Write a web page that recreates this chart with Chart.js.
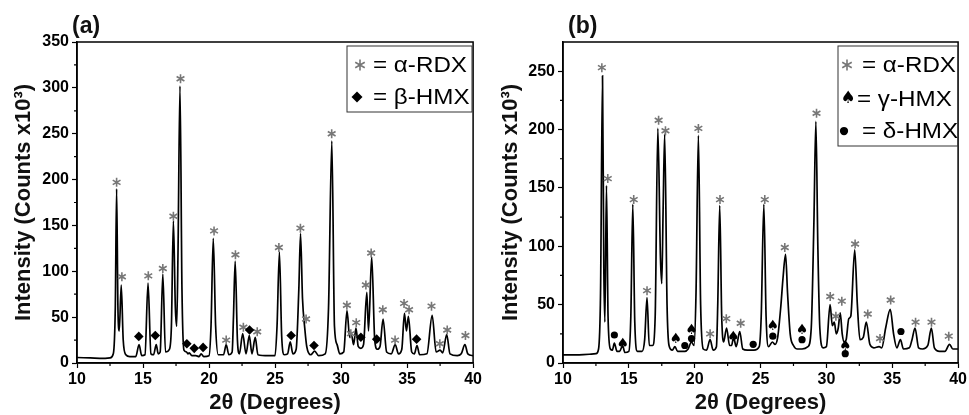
<!DOCTYPE html>
<html>
<head>
<meta charset="utf-8">
<script src="https://cdn.jsdelivr.net/npm/chart.js@4.4.0/dist/chart.umd.min.js"></script>
<style>
body{margin:0;background:#fff;}
canvas{position:absolute;top:0;}
#chartA{left:0;}
#chartB{left:484px;}
</style>
</head>
<body>
<canvas id="chartA" width="484" height="415"></canvas>
<canvas id="chartB" width="485" height="415"></canvas>
<script>
// panel (a) trace
var aTheta = [10.0,11.0,12.0,12.5,12.75,12.9,13.0,13.1,13.2,13.35,13.5,13.7,14.0,14.45,14.7,14.9,15.15,15.38,15.6,15.8,16.0,16.15,16.3,16.5,16.7,17.0,17.15,17.3,17.45,17.55,17.65,17.8,17.95,18.1,18.3,18.4,18.5,18.7,19.0,19.25,19.4,19.6,20.0,20.15,20.32,20.5,20.7,21.1,21.3,21.5,21.75,21.85,21.98,22.15,22.3,22.55,22.8,23.05,23.25,23.5,23.7,24.5,25.0,25.15,25.33,25.5,25.7,25.95,26.15,26.35,26.6,26.8,26.93,27.08,27.25,27.4,27.7,28.0,28.3,28.8,29.05,29.3,29.5,29.7,29.9,30.2,30.45,30.65,30.8,30.95,31.13,31.3,31.5,31.7,31.95,32.08,32.32,32.55,32.75,32.95,33.18,33.45,33.8,34.1,34.35,34.6,34.8,34.95,35.1,35.35,35.55,35.75,35.95,36.5,36.9,37.2,37.5,37.7,38.0,38.25,38.8,39.1,39.38,39.6,40.0];
var aCounts = [6,5.5,5,5.5,10,60,190,60,35,85,25,9,7,7,20,8,9,87,10,9,20,10,12,97,12,15,40,155,60,40,120,302,80,14,12,10,11,8,8,7,10,7,8,40,136,40,9,9,20,9,12,50,111,25,10,32,10,30,10,28,9,8,8,40,121,30,9,10,23,10,15,80,141,70,38,18,9,13,8,10,60,242,40,20,10,12,57,28,30,20,38,18,16,20,77,35,116,25,15,18,48,12,10,20,10,15,54,35,51,12,10,19,9,10,52,12,14,11,31,10,8,10,20,10,8];

// panel (b) trace
var bTheta = [10.0,11.0,12.0,12.5,12.7,12.85,13.0,13.1,13.18,13.3,13.42,13.6,13.75,13.9,14.1,14.3,14.52,14.7,15.0,15.15,15.3,15.45,15.65,16.0,16.2,16.38,16.55,16.8,17.0,17.2,17.4,17.5,17.6,17.72,17.9,18.05,18.3,18.5,18.7,19.0,19.25,19.5,19.75,19.95,20.1,20.28,20.45,20.65,20.9,21.17,21.4,21.65,21.75,21.9,22.05,22.2,22.42,22.65,22.8,22.95,23.15,23.42,23.65,24.0,24.5,24.9,25.05,25.25,25.42,25.6,25.9,26.1,26.3,26.55,26.7,26.9,27.05,27.25,27.5,27.8,28.15,28.6,28.85,29.05,29.2,29.35,29.5,29.75,30.0,30.28,30.45,30.6,30.75,30.9,31.05,31.2,31.35,31.5,31.7,31.85,32.15,32.35,32.55,32.8,33.03,33.3,33.6,34.0,34.2,34.5,34.85,35.1,35.35,35.62,35.85,36.3,36.5,36.73,37.0,37.3,37.7,37.97,38.2,38.6,39.0,39.35,39.6,40.0];
var bCounts = [7,7,7.5,8,12,60,246,80,35,152,40,12,11,17,10,10,15,9,10,40,136,35,10,10,20,56,15,15,40,201,90,68,130,196,50,15,11,14,10,10,10,12,18,15,60,195,50,12,11,20,11,14,50,135,40,18,30,15,15,22,14,27,12,11,11,14,40,136,40,14,18,16,22,50,72,93,60,25,15,12,12,14,30,120,207,100,30,13,14,50,32,35,25,30,43,25,18,20,38,40,97,50,20,22,35,16,13,14,13,30,46,25,13,20,12,13,20,30,13,12,15,30,13,10,10,16,12,12];

// peak markers
var aRdxX = [13.0,13.4,15.4,16.5,17.3,17.84,20.38,21.3,22.0,22.6,23.65,25.29,26.92,27.35,29.29,30.44,30.74,31.15,31.88,32.28,33.16,34.09,34.77,35.15,36.85,37.48,38.04,39.42];
var aRdxY = [197,94,95,103,160,310,144,25,118,39,34,126,147,48,250,63,32,44,85,120,58,25,65,58,62,21,36,30];
var aBetaX = [14.68,15.93,18.32,18.88,19.55,23.07,26.22,27.95,31.5,32.7,35.72];
var aBetaY = [29,30,21,16,17,36,30,19,28,26,26];

var bRdxX = [12.95,13.4,15.37,16.38,17.26,17.78,20.28,21.17,21.92,22.4,23.49,25.32,26.84,29.25,30.29,30.72,31.17,32.18,33.14,34.07,34.88,36.77,37.98,39.29];
var bRdxY = [253,158,140,62,208,199,201,25,140,38,34,140,99,214,57,40,53,102,42,21,54,35,35,23];
var bGammaX = [14.54,18.57,19.76,22.93,25.93,28.15,31.43];
var bGammaY = [16,20,28,22,31,28,14];
var bDeltaX = [13.9,19.25,19.76,24.44,25.93,28.15,31.43,35.66];
var bDeltaY = [24,15,21,16,23,20,8,27];

function pairs(xs, ys) {
  return xs.map(function(x, i) { return {x: x, y: ys[i]}; });
}

function drawSymbol(ctx, kind, x, y, s) {
  ctx.save();
  if (kind === 'star') {
    ctx.strokeStyle = '#777';
    ctx.lineWidth = 1.6;
    ctx.beginPath();
    for (var k = 0; k < 3; k++) {
      var a = Math.PI / 2 + k * Math.PI / 3;
      ctx.moveTo(x + s * Math.cos(a), y + s * Math.sin(a));
      ctx.lineTo(x - s * Math.cos(a), y - s * Math.sin(a));
    }
    ctx.stroke();
  } else if (kind === 'diamond') {
    ctx.fillStyle = '#000';
    ctx.beginPath();
    ctx.moveTo(x, y - s); ctx.lineTo(x + s, y); ctx.lineTo(x, y + s); ctx.lineTo(x - s, y);
    ctx.closePath();
    ctx.fill();
  } else if (kind === 'dot') {
    ctx.fillStyle = '#000';
    ctx.beginPath();
    ctx.arc(x, y, s * 0.75, 0, Math.PI * 2);
    ctx.fill();
  } else if (kind === 'spade') {
    ctx.fillStyle = '#000';
    ctx.font = Math.round(s * 3) + 'px "DejaVu Sans"';
    ctx.textAlign = 'center';
    ctx.textBaseline = 'middle';
    ctx.fillText('\u2660', x, y);
  }
  ctx.restore();
}

// frame, minor ticks, titles, peak marks, legend box
var decorPlugin = {
  id: 'decor',
  afterDraw: function(chart, args, o) {
    var ctx = chart.ctx, area = chart.chartArea;
    var xs = chart.scales.x, ys = chart.scales.y;
    ctx.save();
    ctx.strokeStyle = '#000';
    ctx.lineWidth = 1.5;
    ctx.strokeRect(area.left, area.top, area.right - area.left, area.bottom - area.top);

    ctx.lineWidth = 1.2;
    ctx.beginPath();
    for (var v = 12.5; v < 40; v += 5) {
      var px = xs.getPixelForValue(v);
      ctx.moveTo(px, area.bottom); ctx.lineTo(px, area.bottom + 3);
    }
    for (var w = 25; w < ys.max; w += 50) {
      var py = ys.getPixelForValue(w);
      ctx.moveTo(area.left, py); ctx.lineTo(area.left - 3, py);
    }
    ctx.stroke();

    o.marks.forEach(function(m) {
      m.x.forEach(function(x, i) {
        drawSymbol(ctx, m.kind, xs.getPixelForValue(x), ys.getPixelForValue(m.y[i]), m.kind === 'star' ? 4.5 : 4.8);
      });
    });

    ctx.fillStyle = '#111';
    ctx.font = 'bold 22px "Liberation Sans"';
    ctx.textAlign = 'center';
    ctx.textBaseline = 'middle';
    ctx.fillText('2\u03b8 (Degrees)', (area.left + area.right) / 2, 403);
    ctx.save();
    ctx.translate(o.yTitleX, (area.top + area.bottom) / 2);
    ctx.rotate(-Math.PI / 2);
    ctx.fillText('Intensity (Counts x10\u00b3)', 0, 0);
    ctx.restore();
    ctx.textAlign = 'left';
    ctx.font = 'bold 23px "Liberation Sans"';
    ctx.fillText(o.panel, o.panelX, 27);

    var lb = o.legend;
    ctx.lineWidth = 1;
    ctx.strokeStyle = '#333';
    ctx.strokeRect(lb.x, lb.y, lb.w, lb.h);
    ctx.font = '22px "Liberation Sans"';
    ctx.fillStyle = '#000';
    lb.items.forEach(function(it) {
      drawSymbol(ctx, it.kind, it.sx, it.y, 5.5);
      ctx.save();
      ctx.translate(it.tx, it.y);
      ctx.scale(1.1, 1);
      ctx.fillText(it.text, 0, 1);
      ctx.restore();
    });
    ctx.restore();
  }
};

function makeChart(id, theta, counts, yMax, yWidth, padRight, decor) {
  var tickFont = {family: 'Liberation Sans', size: 16, weight: 'bold'};
  return new Chart(document.getElementById(id), {
    type: 'line',
    data: {
      datasets: [{
        data: pairs(theta, counts),
        borderColor: '#000',
        borderWidth: 1.7,
        pointRadius: 0,
        cubicInterpolationMode: 'monotone',
        fill: false
      }]
    },
    options: {
      responsive: false,
      animation: false,
      devicePixelRatio: 1,
      layout: {padding: {left: 0, right: padRight, top: 42, bottom: 0}},
      plugins: {legend: {display: false}, tooltip: {enabled: false}, decor: decor},
      scales: {
        x: {
          type: 'linear', min: 10, max: 40,
          ticks: {stepSize: 5, color: '#000', padding: 2, font: tickFont},
          grid: {drawOnChartArea: false, tickLength: 5, color: '#000', tickWidth: 1.2},
          border: {color: '#000', width: 1.5},
          afterFit: function(s) { s.height = 52; }
        },
        y: {
          min: 0, max: yMax,
          ticks: {stepSize: 50, includeBounds: false, color: '#000', padding: 3, font: tickFont},
          grid: {drawOnChartArea: false, tickLength: 5, color: '#000', tickWidth: 1.2},
          border: {color: '#000', width: 1.5},
          afterFit: function(s) { s.width = yWidth; }
        }
      }
    },
    plugins: [decorPlugin]
  });
}

makeChart('chartA', aTheta, aCounts, 350, 77, 9, {
  panel: '(a)', panelX: 72, yTitleX: 24,
  marks: [{kind: 'star', x: aRdxX, y: aRdxY}, {kind: 'diamond', x: aBetaX, y: aBetaY}],
  legend: {x: 347, y: 46, w: 125, h: 66, items: [
    {kind: 'star', sx: 360, tx: 373, y: 65, text: '= \u03b1-RDX'},
    {kind: 'diamond', sx: 357, tx: 373, y: 97, text: '= \u03b2-HMX'}
  ]}
});

makeChart('chartB', bTheta, bCounts, 275, 79, 9, {
  panel: '(b)', panelX: 84, yTitleX: 27,
  marks: [{kind: 'star', x: bRdxX, y: bRdxY}, {kind: 'spade', x: bGammaX, y: bGammaY}, {kind: 'dot', x: bDeltaX, y: bDeltaY}],
  legend: {x: 354, y: 46, w: 120, h: 100, items: [
    {kind: 'star', sx: 363, tx: 378, y: 65, text: '= \u03b1-RDX'},
    {kind: 'spade', sx: 364, tx: 373, y: 99, text: '= \u03b3-HMX'},
    {kind: 'dot', sx: 360, tx: 378, y: 131, text: '= \u03b4-HMX'}
  ]}
});
</script>
</body>
</html>
